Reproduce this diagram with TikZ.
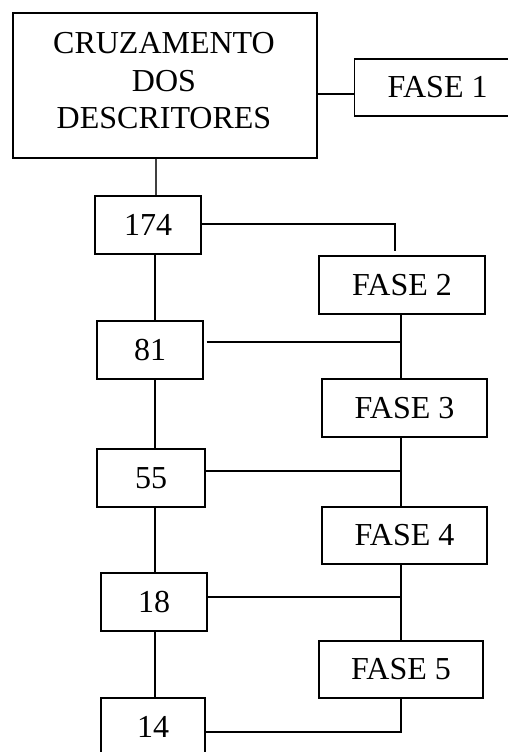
\documentclass[tikz,border=0pt]{standalone}
\usepackage{fontspec}
\setmainfont{Liberation Serif}
\begin{document}
\begin{tikzpicture}[x=1pt,y=-1pt,
  box/.style={draw=black,line width=1.3pt,rectangle,inner sep=0pt,
    font=\fontsize{32}{37.5}\selectfont,align=center},
  plain/.style={inner sep=0pt,font=\fontsize{32}{37.5}\selectfont,align=center},
  link/.style={draw=black,line width=1.3pt}]
\useasboundingbox (0,0) rectangle (508,752);
\node[box,minimum width=304pt,minimum height=145pt] (cruz) at (165,85.5) {};
\node[plain] (cruzt) at (164,81) {CRUZAMENTO\\DOS\\DESCRITORES};
\node[box,minimum width=200pt,minimum height=57pt,anchor=west] (f1) at (354,87.5) {\hspace*{-34pt}FASE 1};
\node[box,minimum width=106pt,minimum height=58pt] (n174) at (148,225) {174};
\node[box,minimum width=166pt,minimum height=58pt] (f2) at (402,285) {FASE 2};
\node[box,minimum width=106pt,minimum height=58pt] (n81) at (150,350) {81};
\node[box,minimum width=165pt,minimum height=58pt] (f3) at (404.5,408) {FASE 3};
\node[box,minimum width=108pt,minimum height=58pt] (n55) at (151,478) {55};
\node[box,minimum width=165pt,minimum height=57pt] (f4) at (404.5,535.5) {FASE 4};
\node[box,minimum width=106pt,minimum height=58pt] (n18) at (154,602) {18};
\node[box,minimum width=164pt,minimum height=57pt] (f5) at (401,669.5) {FASE 5};
\node[box,minimum width=104pt,minimum height=58pt] (n14) at (153,727) {14};
% left column
\coordinate (c0) at (156,0);
\coordinate (c1) at (155,0);
\draw[link,draw=black!75,line width=1.6pt] (cruz.south -| c0) -- (n174.north -| c0);
\draw[link] (n174.south -| c1) -- (n81.north -| c1);
\draw[link] (n81.south -| c1) -- (n55.north -| c1);
\draw[link] (n55.south -| c1) -- (n18.north -| c1);
\draw[link] (n18.south -| c1) -- (n14.north -| c1);
% fase 1
\draw[link] (cruz.east |- 0,94) coordinate (e1) -- (f1.west |- e1);
% right column
\coordinate (r) at (401,0);
\coordinate (k2) at (395,251);
\draw[link] (n174.east |- 0,224) -- (k2 |- 0,224) -- (k2);
\draw[link] (f2.south -| r) -- (f3.north -| r);
\draw[link] ([xshift=3pt]n81.east |- 0,342) -- (r |- 0,342);
\draw[link] (f3.south -| r) -- (f4.north -| r);
\draw[link] (n55.east |- 0,471) -- (r |- 0,471);
\draw[link] (f4.south -| r) -- (f5.north -| r);
\draw[link] (n18.east |- 0,597) -- (r |- 0,597);
\draw[link] (n14.east |- 0,732) -- (r |- 0,732) -- (f5.south -| r);
\end{tikzpicture}
\end{document}
